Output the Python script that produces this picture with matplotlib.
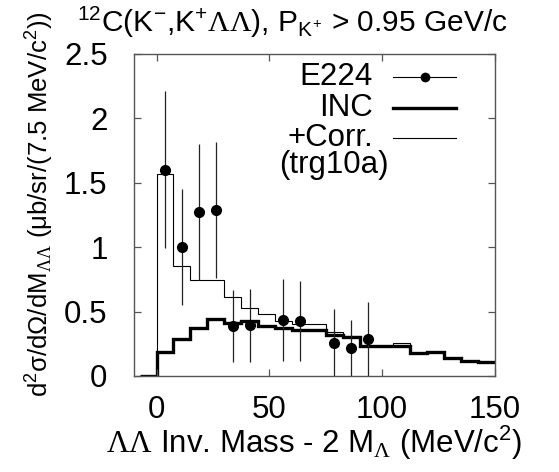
import matplotlib
matplotlib.use('Agg')
import matplotlib.pyplot as plt
from matplotlib.ticker import FuncFormatter
import numpy as np

plt.rcParams['font.family'] = ['Liberation Sans', 'DejaVu Sans']
plt.rcParams['mathtext.fontset'] = 'custom'
plt.rcParams['mathtext.rm'] = 'Liberation Sans'
plt.rcParams['mathtext.it'] = 'Liberation Sans'
plt.rcParams['mathtext.sf'] = 'Liberation Sans'
plt.rcParams['mathtext.tt'] = 'Liberation Serif'

# 7.5 MeV bins from -7.5 to 150
bin_edges = np.arange(-7.5, 150.1, 7.5)

inc = [0.0, 0.19, 0.29, 0.37, 0.445, 0.415, 0.425, 0.39, 0.37, 0.36, 0.355,
       0.315, 0.30, 0.23, 0.23, 0.235, 0.178, 0.185, 0.138, 0.118, 0.105]
corr = [0.0, 1.567, 0.855, 0.746, 0.746, 0.61, 0.53, 0.48, 0.425, 0.40, 0.40,
        0.34, 0.31, 0.23, 0.23, 0.26, 0.178, 0.185, 0.138, 0.118, 0.105]

e224_x = [3.75, 11.25, 18.75, 26.25, 33.75, 41.25, 56.25, 63.75, 78.75, 86.25, 93.75]
e224_y = [1.60, 1.00, 1.275, 1.29, 0.386, 0.394, 0.433, 0.425, 0.256, 0.218, 0.288]
e224_err = [0.61, 0.45, 0.53, 0.53, 0.28, 0.285, 0.32, 0.31, 0.265, 0.22, 0.29]

fs = 22.5
gray = '#555555'

fig = plt.figure(figsize=(5.59, 4.72), dpi=100)
ax = fig.add_axes([0.2397, 0.2034, 0.6458, 0.6822])

ax.stairs(inc, bin_edges, baseline=None, color='black', linewidth=2.4)
ax.stairs(corr, bin_edges, baseline=None, color='black', linewidth=0.8)
ax.errorbar(e224_x, e224_y, yerr=e224_err, fmt='o', color='black',
            markersize=7, elinewidth=0.9, capsize=0, ecolor='#222222')

ax.set_xlim(-10, 150)
ax.set_ylim(0, 2.5)
ax.set_xticks([0, 50, 100, 150])
ax.set_yticks([0, 0.5, 1, 1.5, 2, 2.5])
ax.yaxis.set_major_formatter(FuncFormatter(lambda v, p: '%g' % v))
ax.tick_params(direction='in', length=5, width=0.9, color=gray,
               top=True, right=True, labelsize=fs)
ax.tick_params(axis='y', pad=19)
ax.tick_params(axis='x', pad=14)
for s in ax.spines.values():
    s.set_color(gray)
    s.set_linewidth(1.0)

# gnuplot-style key: text right aligned, sample to the right
tr = ax.transAxes
ax.text(0.662, 0.929, 'E224', transform=tr, ha='right', va='center', fontsize=fs)
ax.plot([0.717, 0.892], [0.929, 0.929], transform=tr, color='black',
        linewidth=0.8, clip_on=False)
ax.plot([0.806], [0.929], 'o', transform=tr, color='black', markersize=6,
        clip_on=False)
ax.text(0.662, 0.832, 'INC', transform=tr, ha='right', va='center', fontsize=fs)
ax.plot([0.717, 0.892], [0.832, 0.832], transform=tr, color='black',
        linewidth=2.4, clip_on=False)
ax.text(0.662, 0.739, '+Corr.', transform=tr, ha='right', va='center', fontsize=fs)
ax.plot([0.717, 0.892], [0.739, 0.739], transform=tr, color='black',
        linewidth=0.8, clip_on=False)
ax.text(0.553, 0.655, '(trg10a)', transform=tr, ha='center', va='center', fontsize=fs)

fig.text(0.562, 0.062,
         r'$\mathtt{\Lambda\Lambda}$ Inv. Mass - 2 M$_{\mathtt{\Lambda}}$ (MeV/c$^{2}$)',
         ha='center', va='center', fontsize=fs)
fig.text(0.072, 0.568,
         r'd$^{2}$$\sigma$/d$\Omega$/dM$_{\mathtt{\Lambda\Lambda}}$ ($\mu$b/sr/(7.5 MeV/c$^{2}$))',
         rotation=90, ha='center', va='center', fontsize=18.5)
fig.text(0.523, 0.953,
         r'$^{12}$C(K$^{-}$,K$^{+}$$\mathtt{\Lambda\Lambda}$), P$_{K^{+}}$ > 0.95 GeV/c',
         ha='center', va='center', fontsize=21.5)

plt.savefig('out.png', dpi=100)
